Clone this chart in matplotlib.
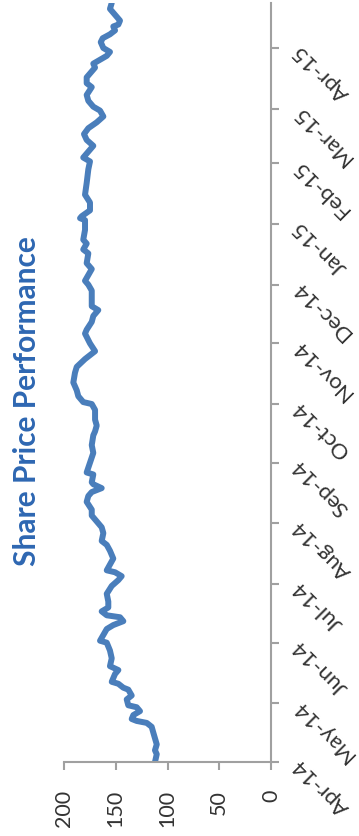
import matplotlib
matplotlib.use("Agg")
import matplotlib.pyplot as plt
import matplotlib.dates as mdates
import pandas as pd

# daily closing share price, Apr 2014 - Apr 2015
dates = [
    "2014-04-01", "2014-04-05", "2014-04-07", "2014-04-10", "2014-04-13", "2014-04-16",
    "2014-04-19", "2014-04-21", "2014-04-22", "2014-04-23", "2014-04-25", "2014-04-27",
    "2014-04-29", "2014-04-30", "2014-05-03", "2014-05-05", "2014-05-08", "2014-05-09",
    "2014-05-11", "2014-05-12", "2014-05-16", "2014-05-18", "2014-05-20", "2014-05-24",
    "2014-05-28", "2014-06-01", "2014-06-02", "2014-06-05", "2014-06-08", "2014-06-10",
    "2014-06-12", "2014-06-14", "2014-06-15", "2014-06-17", "2014-06-19", "2014-06-22",
    "2014-06-26", "2014-06-30", "2014-07-03", "2014-07-05", "2014-07-07", "2014-07-08",
    "2014-07-11", "2014-07-14", "2014-07-18", "2014-07-21", "2014-07-23", "2014-07-27",
    "2014-07-30", "2014-08-02", "2014-08-05", "2014-08-08", "2014-08-12", "2014-08-15",
    "2014-08-17", "2014-08-19", "2014-08-21", "2014-08-22", "2014-08-26", "2014-08-27",
    "2014-09-01", "2014-09-06", "2014-09-10", "2014-09-15", "2014-09-17", "2014-09-20",
    "2014-09-23", "2014-09-28", "2014-10-01", "2014-10-02", "2014-10-05", "2014-10-08",
    "2014-10-12", "2014-10-17", "2014-10-20", "2014-10-24", "2014-10-28", "2014-11-01",
    "2014-11-06", "2014-11-08", "2014-11-12", "2014-11-15", "2014-11-18", "2014-11-20",
    "2014-11-24", "2014-11-28", "2014-12-01", "2014-12-03", "2014-12-09", "2014-12-12",
    "2014-12-17", "2014-12-19", "2014-12-22", "2014-12-24", "2014-12-29", "2015-01-03",
    "2015-01-04", "2015-01-05", "2015-01-08", "2015-01-12", "2015-01-16", "2015-01-22",
    "2015-01-29", "2015-02-02", "2015-02-04", "2015-02-07", "2015-02-10", "2015-02-13",
    "2015-02-16", "2015-02-19", "2015-02-22", "2015-02-25", "2015-02-28", "2015-03-02",
    "2015-03-05", "2015-03-08", "2015-03-12", "2015-03-14", "2015-03-17", "2015-03-20",
    "2015-03-22", "2015-03-24", "2015-03-25", "2015-03-28", "2015-03-30", "2015-04-01",
    "2015-04-04", "2015-04-06", "2015-04-08", "2015-04-10", "2015-04-12", "2015-04-13",
    "2015-04-15", "2015-04-18", "2015-04-21", "2015-04-24",
]
prices = [
    112.1, 110.4, 112.1, 110.4, 112.1, 113.7, 115.3, 120.1, 129.8, 134.6, 133.0, 126.6,
    129.8, 137.9, 139.4, 134.6, 137.9, 142.7, 147.5, 153.9, 150.7, 147.5, 155.6, 153.9,
    155.6, 158.7, 165.2, 162.0, 158.7, 152.4, 142.7, 145.9, 158.7, 163.6, 157.2, 157.2,
    158.7, 153.9, 147.5, 144.3, 150.7, 158.7, 155.6, 152.4, 155.6, 158.7, 163.6, 162.0,
    163.6, 168.4, 173.2, 173.2, 178.1, 176.5, 173.2, 163.6, 171.7, 173.2, 171.7, 178.1,
    174.9, 171.7, 173.2, 171.7, 170.0, 168.4, 170.0, 170.0, 173.2, 181.4, 186.2, 187.7,
    191.0, 189.4, 187.7, 179.7, 170.0, 174.9, 179.7, 178.1, 173.2, 171.7, 166.9, 173.2,
    173.2, 173.2, 176.5, 179.7, 173.2, 178.1, 176.5, 181.4, 178.1, 181.4, 179.7, 179.7,
    184.5, 182.9, 174.9, 174.9, 179.7, 178.1, 176.5, 174.9, 181.4, 176.5, 171.7, 178.1,
    180.7, 176.5, 168.4, 162.0, 165.2, 171.7, 176.5, 178.1, 173.2, 178.1, 178.1, 173.2,
    170.0, 171.7, 168.4, 158.7, 155.6, 162.0, 164.5, 162.6, 155.6, 150.7, 152.4, 147.5,
    145.9, 150.7, 155.6, 153.9,
]
month_ticks = pd.date_range("2014-04-01", "2015-04-01", freq="MS")

title = "Share Price Performance"
line_color = "#4A7EBB"
title_color = "#2E67B2"
axis_gray = "#A0A0A0"

plt.rcParams["font.family"] = ["Lato", "DejaVu Sans"]

dt = pd.to_datetime(dates)

fig = plt.figure(figsize=(3.59, 8.36), dpi=100)
ax = fig.add_axes([0.1783, 0.0885, 0.5766, 0.9079])

# the chart is laid out sideways: price runs along x, time runs up the page
ax.plot(prices, dt, color=line_color, lw=4.3, solid_capstyle="round",
        solid_joinstyle="round")

ax.set_xlim(200, 0)
ax.set_ylim(dt[0], dt[-1])
ax.set_xticks([200, 150, 100, 50, 0])
ax.set_xticklabels(["200", "150", "100", "50", "0"], rotation=90,
                   fontsize=15.5, color="#333333")

ax.yaxis.tick_right()
ax.set_yticks(month_ticks)
ax.yaxis.set_major_formatter(mdates.DateFormatter("%b-%y"))
for lbl in ax.get_yticklabels():
    lbl.set_rotation(135)
    lbl.set_rotation_mode("anchor")
    lbl.set_ha("right")
    lbl.set_va("center")
    lbl.set_fontsize(16)
    lbl.set_color("#333333")

for side in ["top", "left"]:
    ax.spines[side].set_visible(False)
for side in ["bottom", "right"]:
    ax.spines[side].set_color(axis_gray)
    ax.spines[side].set_linewidth(1.5)

ax.tick_params(axis="x", direction="out", length=6, width=1.5, color=axis_gray, pad=14)
ax.tick_params(axis="y", direction="out", length=6, width=1.5, color=axis_gray, pad=12)

fig.text(0.074, 0.52, title, rotation=90, ha="center", va="center",
         fontsize=21.5, fontweight="bold", color=title_color)

fig.savefig("out.png", dpi=100)
